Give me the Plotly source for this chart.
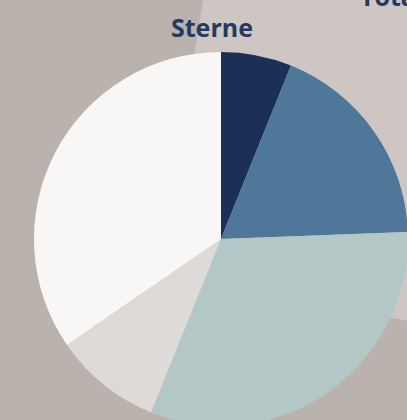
import plotly.graph_objects as go

# ---- data ----
labels = ["1 Stern", "2 Sterne", "3 Sterne", "4 Sterne", "5 Sterne"]
values = [6.1, 18.3, 31.7, 9.3, 34.6]
colors = ["#1c3057", "#4f7799", "#b3c7c6", "#dedad7", "#f8f7f5"]
title_text = "Sterne"
neighbour_title = "Total"

# ---- layout geometry ----
W, H = 418, 436
L, T = 34, 52
PW = PH = 374
R, B = W - L - PW, H - T - PH

def px(x):
    return (x - L) / PW

def py(y):
    return 1 - (y - T) / PH

panel_pts = [(213, -60), (157, 279), (640, 359), (720, -100)]
panel_path = "M " + " L ".join(f"{px(x):.4f},{py(y):.4f}" for x, y in panel_pts) + " Z"

fig = go.Figure(
    go.Pie(
        labels=labels,
        values=values,
        marker=dict(colors=colors, line=dict(width=0)),
        sort=False,
        direction="clockwise",
        rotation=0,
        textinfo="none",
        hoverinfo="label+value+percent",
        showlegend=False,
        domain=dict(x=[0, 1], y=[0, 1]),
    )
)

fig.update_layout(
    width=W,
    height=H,
    margin=dict(l=L, r=R, t=T, b=B, pad=0),
    paper_bgcolor="#bab2ad",
    plot_bgcolor="#bab2ad",
    shapes=[
        dict(
            type="path",
            xref="paper",
            yref="paper",
            path=panel_path,
            fillcolor="#cdc6c3",
            line=dict(width=0),
            layer="below",
        )
    ],
    annotations=[
        dict(
            text=f"<b>{title_text}</b>",
            xref="paper",
            yref="paper",
            x=px(212),
            y=py(27),
            xanchor="center",
            yanchor="middle",
            showarrow=False,
            font=dict(family="Open Sans", size=25, color="#253a63"),
        ),
        dict(
            text=f"<b>{neighbour_title}</b>",
            xref="paper",
            yref="paper",
            x=px(358),
            y=py(-4),
            xanchor="left",
            yanchor="middle",
            showarrow=False,
            font=dict(family="Open Sans", size=25, color="#253a63"),
        ),
    ],
)

fig.write_html(
    "out.html",
    config={"displayModeBar": False},
    post_script="document.body.style.margin='0';document.documentElement.style.overflow='hidden';document.body.style.overflow='hidden';",
)
